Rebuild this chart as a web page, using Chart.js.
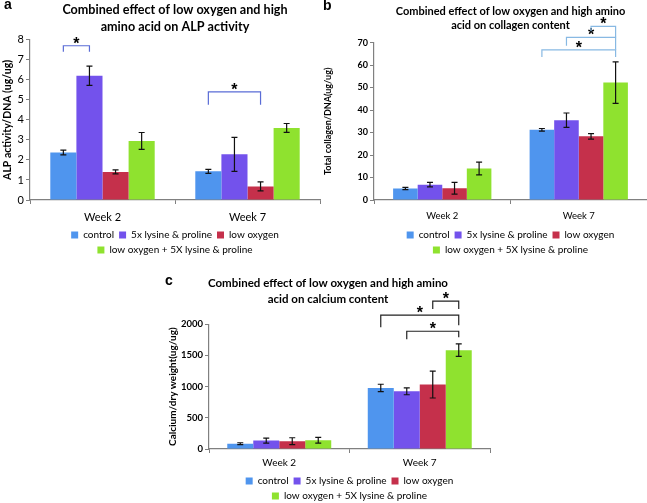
<!DOCTYPE html>
<html>
<head>
<meta charset="utf-8">
<script src="https://cdn.jsdelivr.net/npm/chart.js@4.4.1/dist/chart.umd.min.js"></script>
<style>
    body { margin: 0; background: #fff; }
    #wrap { position: relative; width: 647px; height: 503px; overflow: hidden; background: #fff; }
    .box { position: absolute; }
    .tag { position: absolute; font: bold 14px Arial, sans-serif; color: #000; }
</style>
</head>
<body>
<div id="wrap">
    <div class="box" style="left:0px;top:0px"><canvas id="chartA" width="322" height="265"></canvas></div>
    <div class="box" style="left:322px;top:0px"><canvas id="chartB" width="325" height="265"></canvas></div>
    <div class="box" style="left:166px;top:274px"><canvas id="chartC" width="330" height="237"></canvas></div>
    <div class="tag" style="left:4px;top:-4px">a</div>
    <div class="tag" style="left:323px;top:-3px">b</div>
    <div class="tag" style="left:165px;top:272px">c</div>
</div>
<script>
// categorieen en series
var weeks = ["Week 2", "Week 7"];
var groups = ["control", "5x lysine & proline", "low oxygen", "low oxygen + 5X lysine & proline"];

// a: ALP activity (waarde per week, per groep)
var alpValues = [[2.37, 1.43], [6.2, 2.28], [1.4, 0.68], [2.95, 3.6]];
var alpErrors = [[0.12, 0.1], [0.48, 0.85], [0.1, 0.22], [0.42, 0.22]];
var alpTicks = [0, 8, 1];
// significantie haken: week, van groep, naar groep, hoogte, einde links, einde rechts
var alpStars = [
    { week: 0, from: 0, to: 1, top: 7.7, left: 7.4, right: 7.4 },
    { week: 1, from: 0, to: 2, top: 5.4, left: 4.75, right: 4.75 }
];

// b: collageen
var colValues = [[5.1, 31.2], [6.8, 35.5], [5.2, 28.3], [14, 52.2]];
var colErrors = [[0.5, 0.6], [1.0, 3.2], [2.6, 1.2], [2.8, 9.2]];
var colTicks = [0, 70, 10];
var colStars = [
    { week: 1, from: 0, to: 3, top: 66.8, left: 63.6, right: 63.6 },
    { week: 1, from: 1, to: 3, top: 72.3, left: 68.6, right: 66.8 },
    { week: 1, from: 2, to: 3, top: 77.2, left: 75, right: 72.3 }
];

// c: calcium
var calValues = [[85, 978], [135, 924], [125, 1032], [140, 1584]];
var calErrors = [[15, 60], [40, 55], [55, 215], [45, 100]];
var calTicks = [0, 2000, 500];
var calStars = [
    { week: 1, from: 0, to: 3, top: 2145, left: 1952, right: 1984 },
    { week: 1, from: 1, to: 3, top: 1887, left: 1758, right: 1790 },
    { week: 1, from: 2, to: 3, top: 2371, left: 2242, right: 2242 }
];

// kleuren van de balken
var barColors = ["#4f95ee", "#7352ec", "#c5304b", "#8fe22f"];

// foutbalken tekenen
var errorBars = {
    id: "errorBars",
    afterDatasetsDraw: function (chart) {
        var ctx = chart.ctx;
        var y = chart.scales.y;
        ctx.save();
        ctx.strokeStyle = "#111";
        ctx.lineWidth = 1.2;
        chart.data.datasets.forEach(function (ds, i) {
            chart.getDatasetMeta(i).data.forEach(function (bar, j) {
                var hi = y.getPixelForValue(ds.data[j] + ds.errors[j]);
                var lo = y.getPixelForValue(Math.max(0, ds.data[j] - ds.errors[j]));
                ctx.beginPath();
                ctx.moveTo(bar.x, hi); ctx.lineTo(bar.x, lo);
                ctx.moveTo(bar.x - 3, hi); ctx.lineTo(bar.x + 3, hi);
                ctx.moveTo(bar.x - 3, lo); ctx.lineTo(bar.x + 3, lo);
                ctx.stroke();
            });
        });
        ctx.restore();
    }
};

// haken met sterretjes
function starPlugin(stars, color) {
    return {
        id: "stars",
        afterDraw: function (chart) {
            var ctx = chart.ctx;
            var y = chart.scales.y;
            ctx.save();
            ctx.strokeStyle = color;
            ctx.lineWidth = 1.2;
            ctx.fillStyle = "#000";
            ctx.font = "bold 16px Arial";
            ctx.textAlign = "center";
            ctx.textBaseline = "alphabetic";
            stars.forEach(function (s) {
                var x1 = chart.getDatasetMeta(s.from).data[s.week].x;
                var x2 = chart.getDatasetMeta(s.to).data[s.week].x;
                var yt = y.getPixelForValue(s.top);
                ctx.beginPath();
                ctx.moveTo(x1, y.getPixelForValue(s.left));
                ctx.lineTo(x1, yt);
                ctx.lineTo(x2, yt);
                ctx.lineTo(x2, y.getPixelForValue(s.right));
                ctx.stroke();
                ctx.fillText("*", (x1 + x2) / 2, yt + 3);
            });
            ctx.restore();
        }
    };
}

function makeChart(id, p) {
    var datasets = groups.map(function (g, i) {
        return {
            label: g,
            data: p.values[i],
            errors: p.errors[i],
            backgroundColor: barColors[i],
            borderWidth: 0
        };
    });
    return new Chart(document.getElementById(id), {
        type: "bar",
        data: { labels: weeks, datasets: datasets },
        options: {
            responsive: false,
            animation: false,
            devicePixelRatio: 1,
            barPercentage: 1,
            categoryPercentage: p.catPct,
            layout: { padding: p.padding },
            plugins: {
                title: {
                    display: true,
                    text: p.title,
                    fullSize: p.titleFull,
                    color: "#000",
                    font: { family: "Lato", size: p.titleSize, weight: "bold", lineHeight: p.titleLh },
                    padding: p.titlePad
                },
                legend: {
                    position: "bottom",
                    fullSize: false,
                    labels: {
                        boxWidth: 7, boxHeight: 7, padding: 5,
                        color: "#000",
                        font: { family: "Lato", size: 10 }
                    }
                },
                tooltip: { enabled: false }
            },
            scales: {
                x: {
                    grid: { drawOnChartArea: false, color: "#808080", tickLength: 4 },
                    border: { color: "#808080", width: 1.2 },
                    ticks: { color: "#000", padding: p.xPad, font: p.xFont },
                    afterFit: function (s) { s.height = p.xHeight; }
                },
                y: {
                    min: p.ticks[0], max: p.ticks[1],
                    grid: { drawOnChartArea: false, color: "#808080", tickLength: 4 },
                    border: { color: "#808080", width: 1.2 },
                    ticks: {
                        stepSize: p.ticks[2], color: "#000", padding: 2, font: p.yFont,
                        autoSkip: false,
                        format: { useGrouping: false }
                    },
                    title: {
                        display: true, text: p.yTitle, color: "#000", padding: 1,
                        font: { family: "Lato", size: p.yTitleSize, weight: "bold" }
                    },
                    afterFit: function (s) { s.width = p.yWidth; }
                }
            }
        },
        plugins: [errorBars, starPlugin(p.stars, p.starColor)]
    });
}

makeChart("chartA", {
    values: alpValues, errors: alpErrors, ticks: alpTicks, stars: alpStars, starColor: "#5a6cd6",
    title: ["Combined effect of low oxygen and high", "amino acid on ALP activity"],
    titleSize: 12.6, titleLh: 1.3, titleFull: false, titlePad: { top: 2, bottom: 5 },
    yTitle: "ALP activity/DNA (ug/ug)", yTitleSize: 10.5, yWidth: 30,
    yFont: { family: "Lato", size: 11 }, xFont: { family: "Lato", size: 11 },
    xHeight: 25, xPad: 7, catPct: 0.72, padding: { left: 0, right: 2, top: 0, bottom: 0 }
});

makeChart("chartB", {
    values: colValues, errors: colErrors, ticks: colTicks, stars: colStars, starColor: "#88b9e3",
    title: ["Combined effect of low oxygen and high amino", "acid on collagen content"],
    titleSize: 11, titleLh: 1.3, titleFull: false, titlePad: { top: 4, bottom: 10 },
    yTitle: "Total collagen/DNA(ug/ug)", yTitleSize: 9, yWidth: 52,
    yFont: { family: "Lato", size: 9, weight: "bold" }, xFont: { family: "Lato", size: 9.5 },
    xHeight: 25, xPad: 6, catPct: 0.72, padding: { left: 0, right: 0, top: 0, bottom: 0 }
});

makeChart("chartC", {
    values: calValues, errors: calErrors, ticks: calTicks, stars: calStars, starColor: "#222",
    title: ["Combined effect of low oxygen and high amino", "acid on calcium content"],
    titleSize: 11.5, titleLh: 1.4, titleFull: true, titlePad: { top: 1, bottom: 17 },
    yTitle: "Calcium/dry weight(ug/ug)", yTitleSize: 10, yWidth: 43,
    yFont: { family: "Lato", size: 9.5, weight: "bold" }, xFont: { family: "Lato", size: 10 },
    xHeight: 22, xPad: 4, catPct: 0.74, padding: { left: 0, right: 6, top: 0, bottom: 0 }
});
</script>
</body>
</html>
